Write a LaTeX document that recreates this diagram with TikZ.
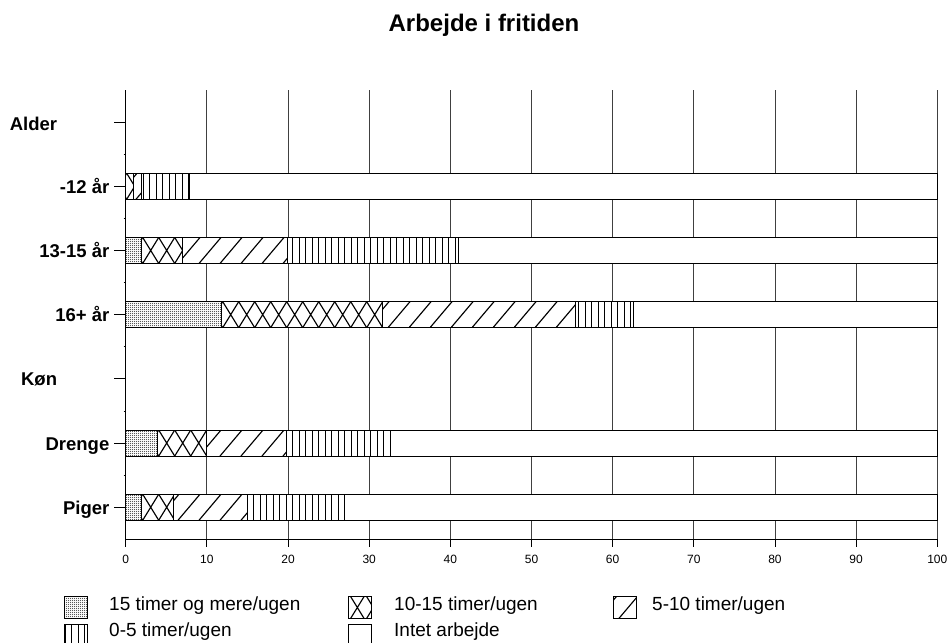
\documentclass[tikz,border=0pt]{standalone}
\usepackage{fontspec}
\setmainfont{Liberation Sans}
\usetikzlibrary{patterns}
\pgfdeclarepatternformonly{stipdots}{\pgfqpoint{0pt}{0pt}}{\pgfqpoint{2pt}{2pt}}{\pgfqpoint{2pt}{2pt}}{%
  \pgfpathrectangle{\pgfqpoint{0pt}{0pt}}{\pgfqpoint{1pt}{1pt}}%
  \pgfpathrectangle{\pgfqpoint{1pt}{1pt}}{\pgfqpoint{0.7pt}{0.7pt}}%
  \pgfusepath{fill}}
\newcommand\patstip{\fill[pattern=stipdots] (\xa,\ya) rectangle (\xb,\yb);}
\newcommand\patcross{\foreach \hx in {-1.3,14.7,...,960}{\draw[hatchline] (\hx,\yb) -- ++(16,-26) (\hx,\ya) -- ++(16,26);}}
\newcommand\patdiag{\foreach \hx in {10,31,...,960}{\draw[hatchline] (\hx,\yb) -- ++(22,-26);}}
\newcommand\patvert{\foreach \k in {0,...,147}{\pgfmathsetmacro\hx{floor(\k*6.5)+0.5}\draw[vline] (\hx,\ya) -- (\hx,\yb);}}
\newcommand\patnone{}
\newcommand\pbox[5]{%
  \def\xa{#2}\def\xb{#3}\def\ya{#4}\def\yb{#5}%
  \fill[white] (\xa,\ya) rectangle (\xb,\yb);
  \begin{scope}
    \clip (\xa,\ya) rectangle (\xb,\yb);
    \csname pat#1\endcsname
  \end{scope}
  \draw[frame] (\xa,\ya) rectangle (\xb,\yb);}
\newcommand\bseg[4]{%
  \pgfmathsetmacro\sxa{125.7+8.116*(#2)}%
  \pgfmathsetmacro\sxb{125.7+8.116*(#3)}%
  \pgfmathsetmacro\sya{90+64.19*(#4+0.5)-13}%
  \pgfmathsetmacro\syb{90+64.19*(#4+0.5)+13}%
  \pbox{#1}{\sxa}{\sxb}{\sya}{\syb}}
\begin{document}
\begin{tikzpicture}[x=1pt,y=-1pt,
  gridline/.style={black!75,line width=0.8pt},
  axisline/.style={black,line width=0.9pt},
  frame/.style={black,line width=0.9pt},
  hatchline/.style={black,line width=1.15pt},
  vline/.style={black,line width=1pt},
  cat/.style={font=\fontsize{18.5}{20}\selectfont\bfseries,inner sep=0pt,anchor=base east},
  ticklbl/.style={font=\fontsize{12}{14}\selectfont,inner sep=0pt,anchor=base},
  legtxt/.style={font=\fontsize{19}{21}\selectfont,inner sep=0pt,anchor=base west}]
\useasboundingbox[fill=white] (0,0) rectangle (949,642);
% title
\node[font=\fontsize{24}{27}\selectfont\bfseries,inner sep=0pt,anchor=base] (title) at (484,31.7) {Arbejde i fritiden};
% grid
\foreach \v in {10,20,...,100}{\draw[gridline] ({125.7+8.116*\v},90) -- ++(0,449.3);}
\draw[axisline] (125.7,90) -- (125.7,539.3);
\draw[axisline] (125.7,539.3) -- (937.3,539.3);
\foreach \v in {0,10,...,100}{
  \draw[axisline] ({125.7+8.116*\v},539.3) -- ++(0,8);
  \node[ticklbl] (t\v) at ({125.7+8.116*\v},563.3) {\v};}
% y ticks
\foreach \i in {0,...,6}{\draw[axisline] (114,{90+64.19*(\i+0.5)}) -- (125.7,{90+64.19*(\i+0.5)});}
\foreach \i in {1,...,6}{\draw[axisline] (123.5,{90+64.19*\i}) -- (125.7,{90+64.19*\i});}
% labels
\node[cat] (alder) at (57.3,{90+64.19*0.5+8}) {Alder};
\node[cat] (r1) at (109.5,{90+64.19*1.5+7}) {-12 år};
\node[cat] (r2) at (109.5,{90+64.19*2.5+7}) {13-15 år};
\node[cat] (r3) at (109.5,{90+64.19*3.5+7}) {16+ år};
\node[cat] (kon) at (57.3,{90+64.19*4.5+7}) {Køn};
\node[cat] (r5) at (109.5,{90+64.19*5.5+7}) {Drenge};
\node[cat] (r6) at (109.5,{90+64.19*6.5+7}) {Piger};
% bars
\bseg{cross}{0}{0.9}{1}\bseg{diag}{0.9}{2.0}{1}\bseg{vert}{2.0}{7.9}{1}\bseg{none}{7.9}{100}{1}
\bseg{stip}{0}{2.0}{2}\bseg{cross}{2.0}{6.95}{2}\bseg{diag}{6.95}{19.9}{2}\bseg{vert}{19.9}{41.0}{2}\bseg{none}{41.0}{100}{2}
\bseg{stip}{0}{11.8}{3}\bseg{cross}{11.8}{31.6}{3}\bseg{diag}{31.6}{55.4}{3}\bseg{vert}{55.4}{62.5}{3}\bseg{none}{62.5}{100}{3}
\bseg{stip}{0}{3.9}{5}\bseg{cross}{3.9}{9.95}{5}\bseg{diag}{9.95}{19.8}{5}\bseg{vert}{19.8}{32.6}{5}\bseg{none}{32.6}{100}{5}
\bseg{stip}{0}{1.9}{6}\bseg{cross}{1.9}{5.9}{6}\bseg{diag}{5.9}{15.0}{6}\bseg{vert}{15.0}{26.9}{6}\bseg{none}{26.9}{100}{6}
% legend
\pbox{stip}{64}{87}{596.7}{618.3}
\node[legtxt] (l1) at (109,610.5) {15 timer og mere/ugen};
\pbox{cross}{348}{371}{596.7}{618.3}
\node[legtxt] (l2) at (394,610.5) {10-15 timer/ugen};
\pbox{diag}{613}{636}{596.7}{618.3}
\node[legtxt] (l3) at (652,610.5) {5-10 timer/ugen};
\pbox{vert}{64}{87}{624}{646}
\node[legtxt] (l4) at (109,636.7) {0-5 timer/ugen};
\pbox{none}{348}{371}{624}{646}
\node[legtxt] (l5) at (394,636.7) {Intet arbejde};
\end{tikzpicture}
\end{document}
